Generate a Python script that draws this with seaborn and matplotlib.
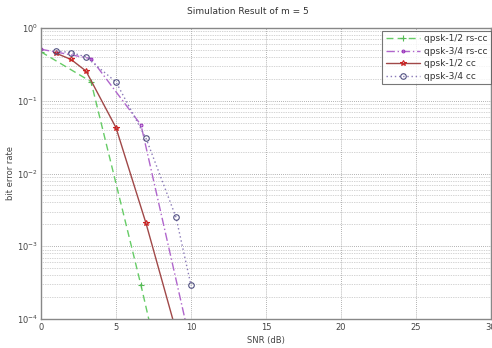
import matplotlib
matplotlib.use("Agg")
import matplotlib.pyplot as plt
import seaborn as sns
import numpy as np
import pandas as pd
from matplotlib.ticker import LogLocator, NullFormatter

sns.set_theme(style="white")
plt.rcParams['font.family'] = ['DejaVu Sans']

title = "Simulation Result of m = 5"
xlabel = "SNR (dB)"
ylabel = "bit error rate"

x_rs12 = [0, 3.333, 6.667, 10]
y_rs12 = [0.47, 0.183, 2.9e-4, 3.0e-7]

x_rs34 = [0, 3.333, 6.667, 10]
y_rs34 = [0.51, 0.38, 0.0464, 4.3e-5]

x_cc12 = [1, 2, 3, 5, 7, 9]
y_cc12 = [0.45, 0.37, 0.256, 0.0426, 0.00207, 6.9e-5]

x_cc34 = [1, 2, 3, 5, 7, 9, 10]
y_cc34 = [0.483, 0.46, 0.40, 0.181, 0.0305, 0.0025, 2.9e-4]

labels = ["qpsk-1/2 rs-cc", "qpsk-3/4 rs-cc", "qpsk-1/2 cc", "qpsk-3/4 cc"]

fig = plt.figure(figsize=(4.92, 3.48), dpi=100)
ax = fig.add_axes([41/492, 1 - 319/348, 450/492, 291/348])

series = [
    (x_rs12, y_rs12, labels[0], "#66cc66", (0, (5, 3)), "+", 4.5, "#55bb55", "none"),
    (x_rs34, y_rs34, labels[1], "#b066cc", (0, (6, 2, 1, 2)), ".", 4, "#9933bb", "none"),
    (x_cc12, y_cc12, labels[2], "#a04848", "-", "*", 4, "#cc2222", "none"),
    (x_cc34, y_cc34, labels[3], "#8a7ab8", (0, (1, 2)), "o", 4, "#505080", "none"),
]
for xs, ys, lab, col, ls, mk, ms, mec, mfc in series:
    df = pd.DataFrame({"x": xs, "y": ys})
    sns.lineplot(data=df, x="x", y="y", ax=ax, label=lab, color=col,
                 linestyle=ls, marker=mk, markersize=ms, markeredgecolor=mec,
                 markerfacecolor=mfc, markeredgewidth=0.8, linewidth=1.0)

ax.set_yscale("log")
ax.set_xlim(0, 30)
ax.set_ylim(1e-4, 1)
ax.set_xticks([0, 5, 10, 15, 20, 25, 30])
ax.yaxis.set_major_locator(LogLocator(base=10, numticks=10))
ax.yaxis.set_minor_locator(LogLocator(base=10, subs=np.arange(2, 10), numticks=10))
ax.yaxis.set_minor_formatter(NullFormatter())
ax.grid(True, which="major", axis="both", linestyle=(0, (1, 1.5)), color="#999999", linewidth=0.6)
ax.grid(True, which="minor", axis="y", linestyle=(0, (1, 1.5)), color="#aaaaaa", linewidth=0.5)
ax.tick_params(axis="both", which="major", labelsize=6, colors="#444444", direction="in", length=3, width=0.6)
ax.tick_params(axis="y", which="minor", direction="in", length=1.5, width=0.4)
ax.tick_params(axis="x", pad=3)
ax.tick_params(axis="y", pad=2)
for sp in ax.spines.values():
    sp.set_color("#888888")
    sp.set_linewidth(1.0)

ax.set_xlabel(xlabel, fontsize=6, color="#444444", labelpad=3)
ax.set_ylabel(ylabel, fontsize=6, color="#444444")
ax.yaxis.set_label_coords(-(41 - 15) / 450, 0.5)
fig.text(248/492, 1 - 11/348, title, ha="center", va="center", fontsize=6.5, color="#333333")

leg = ax.legend(loc="upper right", fontsize=6.5, frameon=True, fancybox=False,
                borderpad=0.35, labelspacing=0.4, handlelength=3.8, handletextpad=0.5,
                borderaxespad=0.0, bbox_to_anchor=(1.0, 0.99))
leg.get_frame().set_edgecolor("#555555")
leg.get_frame().set_linewidth(0.8)
for t in leg.get_texts():
    t.set_color("#333333")

fig.savefig("out.png", dpi=100)
